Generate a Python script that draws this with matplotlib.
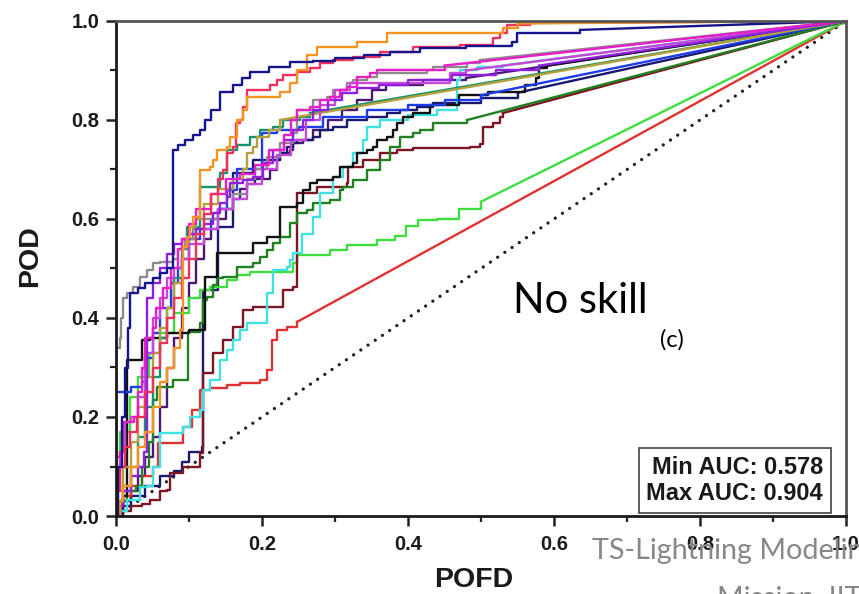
import matplotlib
matplotlib.use("Agg")
import matplotlib.pyplot as plt
from matplotlib.ticker import MultipleLocator

# ---- ROC curves: staircase corners (FPR = POFD, TPR = POD) ----
fpr_navy = [0, 0.003, 0.008, 0.012, 0.016, 0.019, 0.03, 0.04, 0.05, 0.06, 0.07, 0.078, 0.085, 0.095, 0.105, 0.115, 0.122, 0.13, 0.142, 0.16, 0.172, 0.184, 0.21, 0.238, 0.27, 0.30, 0.34, 0.375, 0.416, 0.48, 0.543, 0.549, 0.636]
tpr_navy = [0, 0.10, 0.20, 0.30, 0.38, 0.45, 0.46, 0.47, 0.48, 0.49, 0.50, 0.74, 0.75, 0.76, 0.77, 0.78, 0.80, 0.82, 0.856, 0.87, 0.885, 0.897, 0.907, 0.917, 0.92, 0.925, 0.931, 0.937, 0.945, 0.95, 0.958, 0.976, 0.982]

fpr_orange = [0, 0.005, 0.01, 0.02, 0.03, 0.04, 0.05, 0.06, 0.07, 0.08, 0.088, 0.092, 0.097, 0.101, 0.105, 0.115, 0.129, 0.133, 0.138, 0.152, 0.156, 0.166, 0.174, 0.179, 0.225, 0.238, 0.248, 0.262, 0.275, 0.33, 0.371, 0.53, 0.55]
tpr_orange = [0, 0.03, 0.06, 0.10, 0.14, 0.17, 0.22, 0.27, 0.30, 0.34, 0.376, 0.543, 0.564, 0.584, 0.604, 0.699, 0.705, 0.719, 0.739, 0.745, 0.766, 0.80, 0.82, 0.846, 0.857, 0.875, 0.901, 0.931, 0.947, 0.958, 0.976, 0.985, 0.995]

fpr_crimson = [0, 0.0, 0.005, 0.012, 0.019, 0.029, 0.04, 0.05, 0.06, 0.07, 0.08, 0.09, 0.10, 0.11, 0.12, 0.13, 0.14, 0.147, 0.152, 0.16, 0.165, 0.170, 0.174, 0.179, 0.211, 0.22, 0.229, 0.248, 0.266, 0.28, 0.297, 0.325, 0.362, 0.407, 0.471, 0.516, 0.526, 0.536, 0.567]
tpr_crimson = [0, 0.05, 0.10, 0.14, 0.17, 0.20, 0.25, 0.30, 0.35, 0.40, 0.44, 0.48, 0.52, 0.57, 0.61, 0.65, 0.68, 0.699, 0.733, 0.745, 0.794, 0.80, 0.826, 0.861, 0.871, 0.881, 0.891, 0.897, 0.905, 0.915, 0.921, 0.927, 0.937, 0.947, 0.952, 0.966, 0.976, 0.992, 0.996]

fpr_magenta = [0, 0.0, 0.005, 0.01, 0.025, 0.03, 0.035, 0.04, 0.05, 0.055, 0.065, 0.075, 0.085, 0.09, 0.10, 0.11, 0.13, 0.15, 0.17, 0.19, 0.21, 0.23, 0.24, 0.248, 0.266, 0.279, 0.293, 0.307, 0.316, 0.33, 0.348, 0.358, 0.45]
tpr_magenta = [0, 0.12, 0.13, 0.19, 0.20, 0.25, 0.30, 0.36, 0.38, 0.42, 0.46, 0.50, 0.54, 0.56, 0.59, 0.62, 0.65, 0.68, 0.69, 0.71, 0.74, 0.77, 0.80, 0.82, 0.826, 0.84, 0.846, 0.861, 0.867, 0.887, 0.895, 0.901, 0.91]

fpr_orchid = [0, 0.0, 0.005, 0.012, 0.02, 0.03, 0.04, 0.05, 0.06, 0.07, 0.08, 0.09, 0.10, 0.12, 0.14, 0.16, 0.18, 0.20, 0.22, 0.24, 0.26, 0.28, 0.30, 0.32, 0.457, 0.48]
tpr_orchid = [0, 0.08, 0.13, 0.19, 0.20, 0.24, 0.33, 0.40, 0.44, 0.48, 0.50, 0.52, 0.55, 0.58, 0.62, 0.64, 0.67, 0.70, 0.73, 0.76, 0.80, 0.83, 0.86, 0.875, 0.895, 0.90]

fpr_purple = [0, 0.005, 0.01, 0.02, 0.03, 0.038, 0.042, 0.05, 0.06, 0.07, 0.08, 0.09, 0.10, 0.11, 0.12, 0.133, 0.142, 0.152, 0.156, 0.174, 0.188, 0.201, 0.215, 0.23, 0.242, 0.256, 0.27, 0.29, 0.31, 0.33, 0.36, 0.40, 0.46, 0.52, 0.58]
tpr_purple = [0, 0.02, 0.05, 0.08, 0.10, 0.13, 0.44, 0.47, 0.50, 0.53, 0.55, 0.56, 0.57, 0.58, 0.59, 0.612, 0.632, 0.644, 0.673, 0.679, 0.685, 0.713, 0.74, 0.76, 0.78, 0.80, 0.82, 0.84, 0.855, 0.865, 0.87, 0.88, 0.89, 0.90, 0.91]

fpr_gray = [0, 0.0, 0.005, 0.007, 0.01, 0.015, 0.023, 0.033, 0.042, 0.051, 0.06, 0.078, 0.085, 0.095, 0.105, 0.12, 0.14, 0.16, 0.18, 0.19, 0.207, 0.225, 0.242, 0.248, 0.270, 0.289, 0.297, 0.316, 0.325, 0.344, 0.358, 0.426, 0.434, 0.481, 0.499]
tpr_gray = [0, 0.34, 0.36, 0.40, 0.44, 0.45, 0.463, 0.483, 0.497, 0.511, 0.513, 0.52, 0.54, 0.56, 0.58, 0.60, 0.62, 0.65, 0.68, 0.70, 0.725, 0.753, 0.774, 0.820, 0.840, 0.846, 0.861, 0.875, 0.881, 0.887, 0.895, 0.901, 0.907, 0.915, 0.921]

fpr_olive = [0, 0.003, 0.01, 0.02, 0.03, 0.04, 0.05, 0.06, 0.07, 0.08, 0.09, 0.10, 0.11, 0.12, 0.14, 0.16, 0.174, 0.179, 0.188, 0.193, 0.21, 0.225]
tpr_olive = [0, 0.05, 0.10, 0.15, 0.22, 0.28, 0.33, 0.38, 0.42, 0.47, 0.52, 0.56, 0.60, 0.63, 0.66, 0.68, 0.70, 0.733, 0.745, 0.766, 0.78, 0.80]

fpr_teal = [0, 0.005, 0.01, 0.02, 0.03, 0.04, 0.05, 0.06, 0.07, 0.08, 0.09, 0.097, 0.115, 0.142, 0.152, 0.166, 0.184, 0.197, 0.215, 0.229, 0.252, 0.266]
tpr_teal = [0, 0.03, 0.06, 0.10, 0.16, 0.22, 0.28, 0.36, 0.42, 0.48, 0.54, 0.584, 0.665, 0.693, 0.739, 0.75, 0.766, 0.78, 0.786, 0.80, 0.806, 0.814]

fpr_blue = [0, 0.0, 0.02, 0.035, 0.04, 0.05, 0.06, 0.075, 0.085, 0.09, 0.10, 0.115, 0.13, 0.14, 0.152, 0.166, 0.20, 0.22, 0.25, 0.284, 0.344, 0.40, 0.45, 0.50]
tpr_blue = [0, 0.25, 0.26, 0.27, 0.32, 0.37, 0.42, 0.47, 0.50, 0.52, 0.56, 0.58, 0.60, 0.62, 0.659, 0.70, 0.774, 0.78, 0.786, 0.806, 0.82, 0.83, 0.84, 0.85]

fpr_navy2 = [0, 0.01, 0.02, 0.04, 0.06, 0.08, 0.09, 0.10, 0.118, 0.119, 0.14, 0.16, 0.188, 0.225, 0.234, 0.242, 0.248, 0.270, 0.279, 0.297, 0.316, 0.344, 0.371, 0.389, 0.412, 0.434, 0.50, 0.55]
tpr_navy2 = [0, 0.02, 0.04, 0.06, 0.08, 0.09, 0.11, 0.13, 0.14, 0.457, 0.584, 0.693, 0.719, 0.733, 0.745, 0.753, 0.760, 0.766, 0.780, 0.786, 0.800, 0.806, 0.814, 0.820, 0.826, 0.834, 0.845, 0.855]

fpr_dpurple = [0, 0.01, 0.02, 0.03, 0.04, 0.05, 0.06, 0.07, 0.08, 0.09, 0.10, 0.11, 0.12, 0.13, 0.14, 0.15, 0.16, 0.17, 0.18, 0.19, 0.211, 0.22, 0.225, 0.238, 0.242, 0.256, 0.27, 0.29, 0.31, 0.33, 0.35, 0.37, 0.42, 0.48]
tpr_dpurple = [0, 0.03, 0.05, 0.08, 0.12, 0.16, 0.22, 0.30, 0.36, 0.42, 0.47, 0.52, 0.56, 0.58, 0.60, 0.62, 0.64, 0.66, 0.67, 0.68, 0.699, 0.719, 0.733, 0.739, 0.753, 0.76, 0.78, 0.80, 0.82, 0.84, 0.86, 0.87, 0.88, 0.885]

fpr_black = [0, 0.005, 0.01, 0.015, 0.036, 0.047, 0.07, 0.10, 0.122, 0.138, 0.188, 0.207, 0.225, 0.248, 0.256, 0.266, 0.275, 0.297, 0.307, 0.325, 0.330, 0.344, 0.352, 0.358, 0.371, 0.379, 0.385, 0.393, 0.407, 0.43, 0.47, 0.51, 0.56, 0.575, 0.58, 0.59]
tpr_black = [0, 0.02, 0.04, 0.315, 0.356, 0.36, 0.37, 0.375, 0.483, 0.531, 0.552, 0.564, 0.624, 0.632, 0.659, 0.673, 0.679, 0.685, 0.705, 0.713, 0.733, 0.739, 0.745, 0.760, 0.766, 0.780, 0.794, 0.806, 0.814, 0.83, 0.85, 0.857, 0.87, 0.885, 0.905, 0.91]

fpr_cyan = [0, 0.005, 0.015, 0.033, 0.042, 0.05, 0.06, 0.092, 0.101, 0.115, 0.119, 0.129, 0.142, 0.152, 0.160, 0.170, 0.179, 0.207, 0.215, 0.234, 0.238, 0.242, 0.255, 0.27, 0.279, 0.297, 0.311, 0.325, 0.338, 0.344, 0.362, 0.40, 0.44, 0.467, 0.471, 0.495, 0.53]
tpr_cyan = [0, 0.01, 0.032, 0.059, 0.06, 0.10, 0.168, 0.18, 0.20, 0.214, 0.255, 0.275, 0.315, 0.335, 0.356, 0.376, 0.390, 0.450, 0.497, 0.503, 0.517, 0.531, 0.57, 0.604, 0.653, 0.685, 0.705, 0.733, 0.76, 0.786, 0.80, 0.81, 0.82, 0.88, 0.90, 0.907, 0.91]

fpr_dgreen = [0, 0.005, 0.015, 0.028, 0.035, 0.045, 0.051, 0.056, 0.078, 0.099, 0.115, 0.119, 0.125, 0.133, 0.138, 0.147, 0.166, 0.188, 0.197, 0.207, 0.215, 0.225, 0.238, 0.248, 0.262, 0.270, 0.293, 0.307, 0.311, 0.325, 0.344, 0.362, 0.375, 0.389, 0.407, 0.416, 0.434, 0.481]
tpr_dgreen = [0, 0.03, 0.05, 0.06, 0.10, 0.15, 0.234, 0.261, 0.275, 0.372, 0.39, 0.436, 0.442, 0.467, 0.481, 0.483, 0.503, 0.511, 0.523, 0.537, 0.552, 0.564, 0.592, 0.612, 0.618, 0.632, 0.638, 0.659, 0.665, 0.679, 0.699, 0.719, 0.745, 0.766, 0.774, 0.780, 0.794, 0.800]

fpr_maroon = [0, 0.005, 0.02, 0.035, 0.047, 0.06, 0.070, 0.074, 0.092, 0.115, 0.119, 0.133, 0.147, 0.160, 0.174, 0.188, 0.229, 0.242, 0.248, 0.275, 0.316, 0.318, 0.338, 0.362, 0.385, 0.407, 0.485, 0.499, 0.503, 0.516, 0.526, 0.53]
tpr_maroon = [0, 0.01, 0.02, 0.025, 0.032, 0.05, 0.053, 0.087, 0.099, 0.127, 0.289, 0.329, 0.356, 0.382, 0.416, 0.422, 0.457, 0.463, 0.653, 0.665, 0.673, 0.705, 0.719, 0.733, 0.739, 0.743, 0.746, 0.752, 0.786, 0.794, 0.806, 0.814]

fpr_lime = [0, 0.0, 0.005, 0.019, 0.03, 0.045, 0.06, 0.08, 0.10, 0.115, 0.129, 0.152, 0.166, 0.184, 0.242, 0.248, 0.293, 0.316, 0.358, 0.382, 0.397, 0.414, 0.44, 0.47, 0.50]
tpr_lime = [0, 0.10, 0.17, 0.24, 0.28, 0.33, 0.37, 0.41, 0.44, 0.457, 0.463, 0.477, 0.487, 0.493, 0.511, 0.527, 0.537, 0.547, 0.557, 0.566, 0.586, 0.598, 0.60, 0.62, 0.635]

fpr_red = [0, 0.003, 0.01, 0.02, 0.035, 0.05, 0.058, 0.092, 0.104, 0.115, 0.129, 0.152, 0.170, 0.197, 0.207, 0.214, 0.221, 0.234, 0.248]
tpr_red = [0, 0.02, 0.04, 0.06, 0.08, 0.10, 0.147, 0.18, 0.214, 0.255, 0.259, 0.265, 0.269, 0.275, 0.295, 0.356, 0.376, 0.382, 0.392]

min_auc = 0.578
max_auc = 0.904

curves = [
    (fpr_dpurple, tpr_dpurple, "#4a1870"),
    (fpr_navy2, tpr_navy2, "#18186e"),
    (fpr_red, tpr_red, "#e03232"),
    (fpr_lime, tpr_lime, "#3ede3e"),
    (fpr_maroon, tpr_maroon, "#7c1424"),
    (fpr_dgreen, tpr_dgreen, "#21801f"),
    (fpr_cyan, tpr_cyan, "#3ee2e2"),
    (fpr_black, tpr_black, "#111111"),
    (fpr_blue, tpr_blue, "#1e3ce6"),
    (fpr_teal, tpr_teal, "#13926c"),
    (fpr_olive, tpr_olive, "#b4a03c"),
    (fpr_gray, tpr_gray, "#8c8c8c"),
    (fpr_orchid, tpr_orchid, "#c548d8"),
    (fpr_purple, tpr_purple, "#9020e0"),
    (fpr_magenta, tpr_magenta, "#e81ec8"),
    (fpr_crimson, tpr_crimson, "#f2305c"),
    (fpr_orange, tpr_orange, "#f39422"),
    (fpr_navy, tpr_navy, "#14148c"),
]

W, H = 859, 594
fig = plt.figure(figsize=(W / 100, H / 100), dpi=100)
ax = fig.add_axes([116 / W, (H - 516) / H, 730 / W, 495 / H])

# no-skill diagonal
ax.plot([0, 1], [0, 1], color="#222222", lw=2.4,
        linestyle=(0, (0.01, 2.6)), dash_capstyle="round", zorder=1)

for fx, ty, col in curves:
    ax.plot(fx, ty, drawstyle="steps-post", color=col, lw=1.7, zorder=2)
    ax.plot([fx[-1], 1.0], [ty[-1], 1.0], color=col, lw=1.7, zorder=2)

ax.set_xlim(0, 1)
ax.set_ylim(0, 1)
tick_vals = [0.0, 0.2, 0.4, 0.6, 0.8, 1.0]
tick_text = ["0.0", "0.2", "0.4", "0.6", "0.8", "1.0"]
ax.set_xticks(tick_vals)
ax.set_yticks(tick_vals)
ax.set_xticklabels(tick_text)
ax.set_yticklabels(tick_text)
ax.xaxis.set_minor_locator(MultipleLocator(0.1))
ax.yaxis.set_minor_locator(MultipleLocator(0.1))
for lab in ax.get_xticklabels() + ax.get_yticklabels():
    lab.set_fontfamily("Liberation Sans")
    lab.set_fontweight("bold")
    lab.set_fontsize(14.5)
    lab.set_color("#1a1a1a")

ax.tick_params(which="major", direction="out", length=7, width=1.8, color="#222222")
ax.tick_params(which="minor", direction="out", length=4, width=1.6, color="#222222")
ax.tick_params(axis="x", which="major", pad=7)
ax.tick_params(axis="y", which="major", pad=5)

for side in ("left", "bottom"):
    ax.spines[side].set_linewidth(2.0)
    ax.spines[side].set_color("#1a1a1a")
for side in ("top", "right"):
    ax.spines[side].set_linewidth(2.0)
    ax.spines[side].set_color("#555555")

# AUC summary box
ax.text(0.9685, 0.022, f"Min AUC: {min_auc:.3f}\nMax AUC: {max_auc:.3f}",
        transform=ax.transAxes, ha="right", va="bottom",
        fontfamily="Liberation Sans", fontweight="bold", fontsize=17,
        color="#1a1a1a", linespacing=1.2, zorder=5,
        bbox=dict(boxstyle="square,pad=0.32", fc="white", ec="#444444", lw=1.2))

# axis titles
fig.text(30 / W, 1 - 256 / H, "POD", rotation=90, ha="center", va="center",
         fontfamily="Liberation Sans", fontweight="bold", fontsize=20.5, color="#1a1a1a")
fig.text(474 / W, 1 - 580 / H, "POFD", ha="center", va="center",
         fontfamily="Liberation Sans", fontweight="bold", fontsize=20.5, color="#1a1a1a")

# annotations
fig.text(513 / W, 1 - 313 / H, "No skill", ha="left", va="baseline",
         fontfamily="Lato", fontsize=30, color="black")
fig.text(660 / W, 1 - 347 / H, "(c)", ha="left", va="baseline",
         fontfamily="Lato", fontsize=17, color="black")
fig.text(592 / W, 1 - 559 / H, "TS-Lightning Modeling", ha="left", va="baseline",
         fontfamily="Lato", fontsize=20.7, color="#878787")
fig.text(717 / W, 1 - 606 / H, "Mission, IITM", ha="left", va="baseline",
         fontfamily="Lato", fontsize=20.7, color="#878787")

fig.savefig("out.png", dpi=100)
